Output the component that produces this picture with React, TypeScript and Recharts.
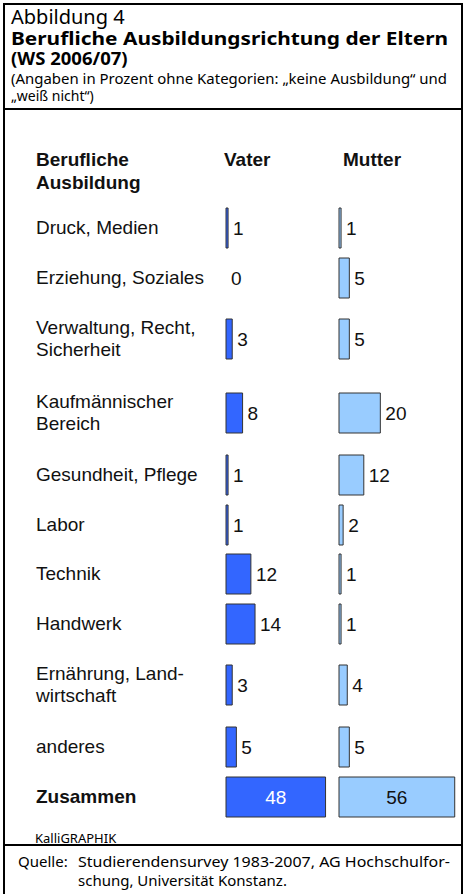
import React from "react";
import { BarChart, Bar, XAxis, YAxis, LabelList, Rectangle } from "recharts";

// ---- data ----
const categories: string[] = [
  "Druck, Medien",
  "Erziehung, Soziales",
  "Verwaltung, Recht,\nSicherheit",
  "Kaufmännischer\nBereich",
  "Gesundheit, Pflege",
  "Labor",
  "Technik",
  "Handwerk",
  "Ernährung, Land-\nwirtschaft",
  "anderes",
  "Zusammen",
];
const vater: number[] = [1, 0, 3, 8, 1, 1, 12, 14, 3, 5, 48];
const mutter: number[] = [1, 5, 5, 20, 12, 2, 1, 1, 4, 5, 56];
const seriesNames: string[] = ["Vater", "Mutter"];
const columnHeader: string[] = ["Berufliche", "Ausbildung"];

const titleLines = {
  label: "Abbildung 4",
  title1: "Berufliche Ausbildungsrichtung der Eltern",
  title2: "(WS 2006/07)",
  sub1: "(Angaben in Prozent ohne Kategorien: \u201Ekeine Ausbildung\u201C und",
  sub2: "\u201Ewei\u00DF nicht\u201C)",
};
const credit = "KalliGRAPHIK";
const sourceLabel = "Quelle:";
const sourceLines = [
  "Studierendensurvey 1983-2007, AG Hochschulfor-",
  "schung, Universit\u00E4t Konstanz.",
];

// ---- styles / layout ----
const ARIAL = "'Liberation Sans', Arial, Helvetica, sans-serif";
const FRUT = "'Noto Sans', 'Open Sans', sans-serif";
const VATER_FILL = "#3366FF";
const MUTTER_FILL = "#99CCFF";
const BAR_STROKE = "#333333";

const ROW_START = 203.25;
const SINGLE_H = 49.5;
const DOUBLE_H = 74;
const BAR_H = 40;

function RowBar(props: {
  name: string;
  value: number;
  max: number;
  width: number;
  fill: string;
  total: boolean;
  labelFill: string;
}) {
  const { name, value, max, width, fill, total, labelFill } = props;
  const data = [{ name, value }];
  const renderLabel = (p: any) => {
    const x = Number(p.x) || 0;
    const y = Number(p.y) || 0;
    const w = Number(p.width) || 0;
    const h = Number(p.height) || 0;
    const v = p.value;
    return (
      <text
        x={total ? x + w / 2 : x + w + 5}
        y={y + h / 2}
        dy="0.36em"
        textAnchor={total ? "middle" : "start"}
        fill={labelFill}
        fontSize={19}
        fontFamily={ARIAL}
      >
        {String(v)}
      </text>
    );
  };
  const renderShape = (p: any) => {
    const v = p.payload ? p.payload.value : p.value;
    if (v === 0) return <g />;
    return <Rectangle {...p} />;
  };
  return (
    <BarChart
      width={width}
      height={BAR_H + 2}
      data={data}
      layout="vertical"
      margin={{ top: 1, right: 0, bottom: 1, left: 1 }}
      barCategoryGap={0}
      style={{ overflow: "visible" }}
    >
      <XAxis type="number" domain={[0, max]} hide />
      <YAxis type="category" dataKey="name" hide />
      <Bar
        dataKey="value"
        fill={fill}
        stroke={BAR_STROKE}
        strokeWidth={1}
        isAnimationActive={false}
        minPointSize={(v: any) => (v === 0 ? 0.001 : 0)}
        shape={renderShape}
      >
        <LabelList dataKey="value" content={renderLabel} />
      </Bar>
    </BarChart>
  );
}

export default function App() {
  let y = ROW_START;
  const rows = categories.map((cat, i) => {
    const lines = cat.split("\n");
    const h = lines.length > 1 ? DOUBLE_H : SINGLE_H;
    const top = y;
    y += h;
    const total = i === categories.length - 1;
    return (
      <div
        key={cat}
        style={{ position: "absolute", left: 0, top, width: 465, height: h }}
      >
        <div
          style={{
            position: "absolute",
            left: 36,
            top: 0,
            height: h,
            display: "flex",
            flexDirection: "column",
            justifyContent: "center",
            fontFamily: ARIAL,
            fontSize: 19,
            lineHeight: "22px",
            fontWeight: total ? 700 : 400,
            color: "#111",
            whiteSpace: "nowrap",
          }}
        >
          {lines.map((l) => (
            <div key={l}>{l}</div>
          ))}
        </div>
        <div style={{ position: "absolute", left: 225, top: (h - BAR_H - 2) / 2 }}>
          <RowBar
            name={cat}
            value={vater[i]}
            max={54}
            width={113}
            fill={VATER_FILL}
            total={total}
            labelFill={total ? "#ffffff" : "#111"}
          />
        </div>
        <div style={{ position: "absolute", left: 338, top: (h - BAR_H - 2) / 2 }}>
          <RowBar
            name={cat}
            value={mutter[i]}
            max={60}
            width={125}
            fill={MUTTER_FILL}
            total={total}
            labelFill="#111"
          />
        </div>
      </div>
    );
  });

  const line = (style: React.CSSProperties) => (
    <div style={{ position: "absolute", background: "#000", ...style }} />
  );

  return (
    <div
      style={{
        position: "absolute",
        left: 0,
        top: 0,
        width: 465,
        height: 894,
        background: "#fff",
        overflow: "hidden",
      }}
    >
      {line({ left: 3, top: 3, width: 2, height: 891 })}
      {line({ left: 461, top: 3, width: 2, height: 891 })}
      {line({ left: 3, top: 3, width: 460, height: 2 })}
      {line({ left: 3, top: 108, width: 460, height: 2 })}
      {line({ left: 3, top: 844, width: 460, height: 2 })}

      <svg
        width={465}
        height={110}
        style={{ position: "absolute", left: 0, top: 0 }}
      >
        <text x={11} y={24} fontFamily={FRUT} fontSize={20} fill="#000">
          {titleLines.label}
        </text>
        <text
          x={11}
          y={45}
          fontFamily={FRUT}
          fontSize={18.5}
          fontWeight={700}
          fill="#000"
          textLength={437}
          lengthAdjust="spacingAndGlyphs"
        >
          {titleLines.title1}
        </text>
        <text x={11} y={65} fontFamily={FRUT} fontSize={18.5} fontWeight={700} fill="#000">
          {titleLines.title2}
        </text>
        <text
          x={11}
          y={84}
          fontFamily={FRUT}
          fontSize={14}
          fill="#000"
          textLength={436}
          lengthAdjust="spacingAndGlyphs"
        >
          {titleLines.sub1}
        </text>
        <text x={11} y={101} fontFamily={FRUT} fontSize={14} fill="#000">
          {titleLines.sub2}
        </text>
      </svg>

      <svg
        width={465}
        height={200}
        style={{ position: "absolute", left: 0, top: 0 }}
      >
        <text x={36} y={166} fontFamily={ARIAL} fontSize={19} fontWeight={700} fill="#111">
          {columnHeader[0]}
        </text>
        <text x={36} y={189} fontFamily={ARIAL} fontSize={19} fontWeight={700} fill="#111">
          {columnHeader[1]}
        </text>
        <text x={224} y={166} fontFamily={ARIAL} fontSize={19} fontWeight={700} fill="#111">
          {seriesNames[0]}
        </text>
        <text x={343} y={166} fontFamily={ARIAL} fontSize={19} fontWeight={700} fill="#111">
          {seriesNames[1]}
        </text>
      </svg>

      {rows}

      <svg
        width={465}
        height={894}
        style={{ position: "absolute", left: 0, top: 0, pointerEvents: "none" }}
      >
        <text x={35} y={843} fontFamily={FRUT} fontSize={13} fill="#000">
          {credit}
        </text>
        <text x={18} y={867} fontFamily={FRUT} fontSize={15} fill="#000">
          {sourceLabel}
        </text>
        <text
          x={78}
          y={867}
          fontFamily={FRUT}
          fontSize={15}
          fill="#000"
          textLength={372}
          lengthAdjust="spacingAndGlyphs"
        >
          {sourceLines[0]}
        </text>
        <text x={78} y={886} fontFamily={FRUT} fontSize={15} fill="#000">
          {sourceLines[1]}
        </text>
      </svg>
    </div>
  );
}
